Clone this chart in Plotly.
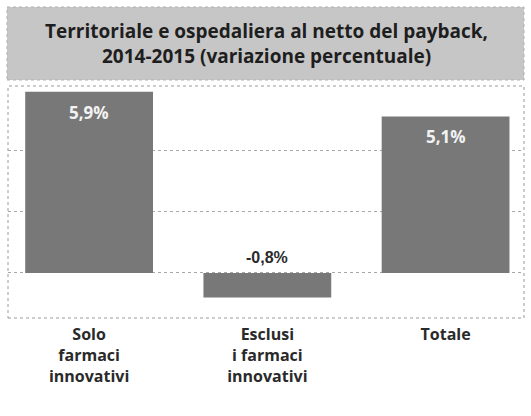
import plotly.graph_objects as go

categories = ["Solo<br>farmaci<br>innovativi", "Esclusi<br>i farmaci<br>innovativi", "Totale"]
values = [5.9, -0.8, 5.1]
title_lines = ["Territoriale e ospedaliera al netto del payback,", "2014-2015 (variazione percentuale)"]

def fmt(v):
    return f"{v:.1f}".replace(".", ",") + "%"

W, H = 531, 416
ml, mr, mt, mb = 8, 7, 86, 98
ph = H - mt - mb
pw = W - ml - mr

fig = go.Figure()
fig.add_trace(go.Bar(
    x=list(range(len(categories))), y=values,
    marker=dict(color="#787878", line=dict(width=0)),
    width=0.717, hoverinfo="skip",
))

annotations = []
for i, v in enumerate(values):
    if v >= 0:
        annotations.append(dict(x=i, y=v, xref="x", yref="y", text=fmt(v), showarrow=False,
                                yanchor="top", yshift=-7,
                                font=dict(family="Open Sans", size=17, color="#f2f2f2", weight="bold")))
    else:
        annotations.append(dict(x=i, y=0, xref="x", yref="y", text=fmt(v), showarrow=False,
                                yanchor="bottom", yshift=5,
                                font=dict(family="Liberation Sans", size=16, color="#2a2a2a", weight="bold")))

for line, yc in zip(title_lines, [30.5, 55.5]):
    annotations.append(dict(x=0.5, y=(H - yc - mb) / ph, xref="paper", yref="paper",
                            text=line, showarrow=False,
                            xanchor="center", yanchor="middle",
                            font=dict(family="Open Sans", size=19, color="#1e1e1e", weight="bold")))

shapes = [
    dict(type="rect", xref="paper", yref="paper",
         x0=(7 - ml) / pw, x1=(524 - ml) / pw,
         y0=(H - 80 - mb) / ph, y1=(H - 7 - mb) / ph,
         fillcolor="#c6c6c6", line=dict(color="#b0b0b0", width=1, dash="dot"), layer="below"),
    dict(type="rect", xref="paper", yref="paper", x0=0, x1=1, y0=0, y1=1,
         line=dict(color="#9a9a9a", width=1, dash="dot"), layer="above"),
]

fig.update_layout(
    width=W, height=H,
    margin=dict(l=ml, r=mr, t=mt, b=mb, pad=0),
    paper_bgcolor="white", plot_bgcolor="white",
    showlegend=False,
    annotations=annotations, shapes=shapes,
    xaxis=dict(range=[-0.455, 2.44], tickvals=list(range(len(categories))), ticktext=categories,
               showgrid=False, zeroline=False, showline=False, ticks="",
               tickfont=dict(family="Open Sans", size=16, color="#2a2a2a", weight="bold"), ticklabelstandoff=5),
    yaxis=dict(range=[-1.47, 6.09], tickvals=[0, 2, 4], showticklabels=False,
               showgrid=True, gridcolor="#a8a8a8", griddash="dot", gridwidth=1,
               zeroline=False, showline=False),
)

fig.write_html("out.html", config={"displayModeBar": False},
               post_script="document.body.style.margin='0';document.body.style.overflow='hidden';")
